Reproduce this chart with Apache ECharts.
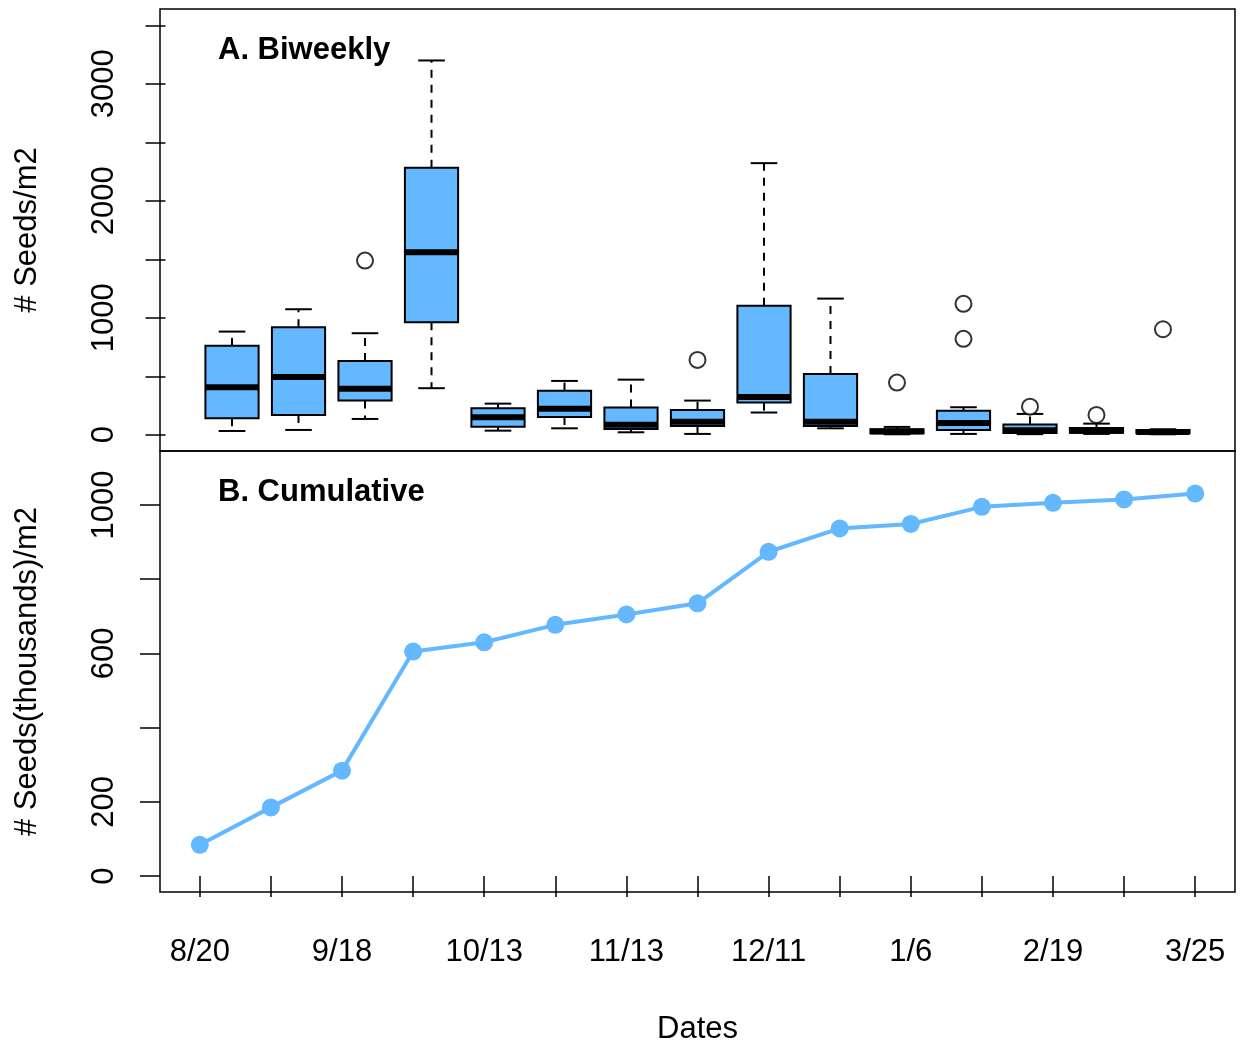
<!DOCTYPE html>
<html>
<head>
<meta charset="utf-8">
<title>Seed rain</title>
<script src="https://cdn.jsdelivr.net/npm/echarts@6/dist/echarts.min.js"></script>
<style>
  html, body { margin: 0; padding: 0; background: #fff; }
  #chart { width: 1242px; height: 1042px; }
</style>
</head>
<body>
<div id="chart"></div>
<script>
// Sampling dates (every other collection is labelled on the axis)
const sampleIndex = [1, 2, 3, 4, 5, 6, 7, 8, 9, 10, 11, 12, 13, 14, 15];
const dateLabels = ['8/20', '9/18', '10/13', '11/13', '12/11', '1/6', '2/19', '3/25'];
const labelledIndex = [1, 3, 5, 7, 9, 11, 13, 15];

// A. Biweekly seeds/m2 — five-number summaries per collection
const boxLow    = [32,  41,  135,  398, 35,  55,  21,  7,   190, 55,   4,  7,   5,   7,  4];
const boxQ1     = [141, 169, 292,  962, 69,  152, 50,  75,  275, 75,   13, 41,  15,  18, 13];
const boxMedian = [406, 494, 394, 1561, 150, 223, 85,  112, 323, 112,  27, 100, 38,  35, 24];
const boxQ3     = [760, 920, 631, 2282, 227, 377, 232, 212, 1102, 520, 47, 206, 88,  58, 41];
const boxHigh   = [882, 1073, 868, 3200, 266, 460, 471, 292, 2322, 1164, 67, 235, 178, 95, 47];
const outlierAt    = [3,    8,   11,  12,   12,  13,  14,  15];
const outlierValue = [1489, 640, 446, 1119, 820, 240, 169, 902];

// B. Cumulative seeds (thousands)/m2
const cumulative = [84, 185, 284, 605, 630, 677, 705, 735, 874, 937, 949, 995, 1006, 1015, 1031];

// Tick values
const topTicks = [0, 500, 1000, 1500, 2000, 2500, 3000, 3500];
const topLabels = [0, 1000, 2000, 3000];
const bottomTicks = [0, 200, 400, 600, 800, 1000];
const bottomLabels = [0, 200, 600, 1000];

const BLUE = '#63B8FF';
const FONT = 'Liberation Sans, Arial, Helvetica, sans-serif';

const boxData = sampleIndex.map((x, i) => [x, boxLow[i], boxQ1[i], boxMedian[i], boxQ3[i], boxHigh[i]]);
const outlierData = outlierAt.map((x, i) => [x, outlierValue[i]]);
const lineData = sampleIndex.map((x, i) => [x, cumulative[i]]);

// R-style boxplot glyph: dashed whiskers, staples, filled box, heavy median
function renderBox(params, api) {
  const x = api.value(0);
  const lo = api.coord([x, api.value(1)]);
  const q1 = api.coord([x, api.value(2)]);
  const md = api.coord([x, api.value(3)]);
  const q3 = api.coord([x, api.value(4)]);
  const hi = api.coord([x, api.value(5)]);
  const w = api.size([0.8, 0])[0];
  const cx = lo[0];
  const half = w / 2;
  const staple = w / 4;
  const dash = { stroke: '#000', lineWidth: 2, lineDash: [8, 7] };
  const solid = { stroke: '#000', lineWidth: 2 };
  return {
    type: 'group',
    children: [
      { type: 'line', shape: { x1: cx, y1: q3[1], x2: cx, y2: hi[1] }, style: dash },
      { type: 'line', shape: { x1: cx, y1: q1[1], x2: cx, y2: lo[1] }, style: dash },
      { type: 'line', shape: { x1: cx - staple, y1: hi[1], x2: cx + staple, y2: hi[1] }, style: solid },
      { type: 'line', shape: { x1: cx - staple, y1: lo[1], x2: cx + staple, y2: lo[1] }, style: solid },
      { type: 'rect', shape: { x: cx - half, y: q3[1], width: w, height: q1[1] - q3[1] },
        style: { fill: BLUE, stroke: '#000', lineWidth: 2 } },
      { type: 'line', shape: { x1: cx - half, y1: md[1], x2: cx + half, y2: md[1] },
        style: { stroke: '#000', lineWidth: 6 } }
    ]
  };
}

const plain = v => String(v);

const yCommon = {
  type: 'value',
  splitLine: { show: false },
  axisLine: { show: false },
  nameLocation: 'middle',
  nameRotate: 90,
  nameTextStyle: { fontFamily: FONT, fontSize: 31, color: '#000' },
  axisTick: { show: true, length: 20, inside: false, lineStyle: { color: '#000', width: 1.5 } },
  axisLabel: { rotate: 90, margin: 40, fontFamily: FONT, fontSize: 31, color: '#000', formatter: plain }
};

const option = {
  backgroundColor: '#fff',
  animation: false,
  grid: [
    { left: 160, right: 7, top: 9, height: 442, show: true, borderColor: '#000', borderWidth: 1.5,
      backgroundColor: 'transparent', containLabel: false, outerBoundsMode: 'none' },
    { left: 160, right: 7, top: 451, height: 441, show: true, borderColor: '#000', borderWidth: 1.5,
      backgroundColor: 'transparent', containLabel: false, outerBoundsMode: 'none' }
  ],
  xAxis: [
    {
      // boxplot panel: 15 groups spread over 0..16
      type: 'value', gridIndex: 0, min: -0.083, max: 16.083,
      splitLine: { show: false }, axisLine: { show: false },
      axisTick: { show: false }, axisLabel: { show: false }
    },
    {
      type: 'value', gridIndex: 1, min: 0.44, max: 15.56,
      splitLine: { show: false }, axisLine: { show: false },
      name: 'Dates',
      nameLocation: 'middle',
      nameGap: 122,
      nameTextStyle: { fontFamily: FONT, fontSize: 31, color: '#000' },
      axisTick: { show: true, length: 21, inside: false, customValues: sampleIndex,
        lineStyle: { color: '#000', width: 1.5 } },
      axisLabel: {
        customValues: labelledIndex,
        margin: 45,
        fontFamily: FONT, fontSize: 31, color: '#000',
        formatter: v => dateLabels[labelledIndex.indexOf(Math.round(v))] || ''
      }
    }
  ],
  yAxis: [
    Object.assign({}, yCommon, {
      gridIndex: 0, min: -139, max: 3640,
      name: '# Seeds/m2', nameGap: 117,
      axisTick: Object.assign({}, yCommon.axisTick, { customValues: topTicks }),
      axisLabel: Object.assign({}, yCommon.axisLabel, { customValues: topLabels })
    }),
    Object.assign({}, yCommon, {
      gridIndex: 1, min: -43.1, max: 1145.6,
      name: '# Seeds(thousands)/m2', nameGap: 117,
      axisTick: Object.assign({}, yCommon.axisTick, { customValues: bottomTicks }),
      axisLabel: Object.assign({}, yCommon.axisLabel, { customValues: bottomLabels })
    })
  ],
  graphic: [
    { type: 'text', left: 218, top: 35, style: { text: 'A. Biweekly', font: 'bold 31px ' + FONT, fill: '#000' } },
    { type: 'text', left: 218, top: 477, style: { text: 'B. Cumulative', font: 'bold 31px ' + FONT, fill: '#000' } }
  ],
  series: [
    {
      type: 'custom',
      xAxisIndex: 0, yAxisIndex: 0,
      renderItem: renderBox,
      encode: { x: 0, y: [1, 2, 3, 4, 5] },
      data: boxData,
      clip: false
    },
    {
      type: 'scatter',
      xAxisIndex: 0, yAxisIndex: 0,
      symbol: 'circle',
      symbolSize: 16,
      itemStyle: { color: '#fff', borderColor: '#000', borderWidth: 2 },
      data: outlierData
    },
    {
      type: 'line',
      xAxisIndex: 1, yAxisIndex: 1,
      symbol: 'circle',
      symbolSize: 18,
      showAllSymbol: true,
      lineStyle: { color: BLUE, width: 4 },
      itemStyle: { color: BLUE },
      data: lineData
    }
  ]
};

const chart = echarts.init(document.getElementById('chart'), null, { renderer: 'canvas' });
chart.setOption(option);
</script>
</body>
</html>
